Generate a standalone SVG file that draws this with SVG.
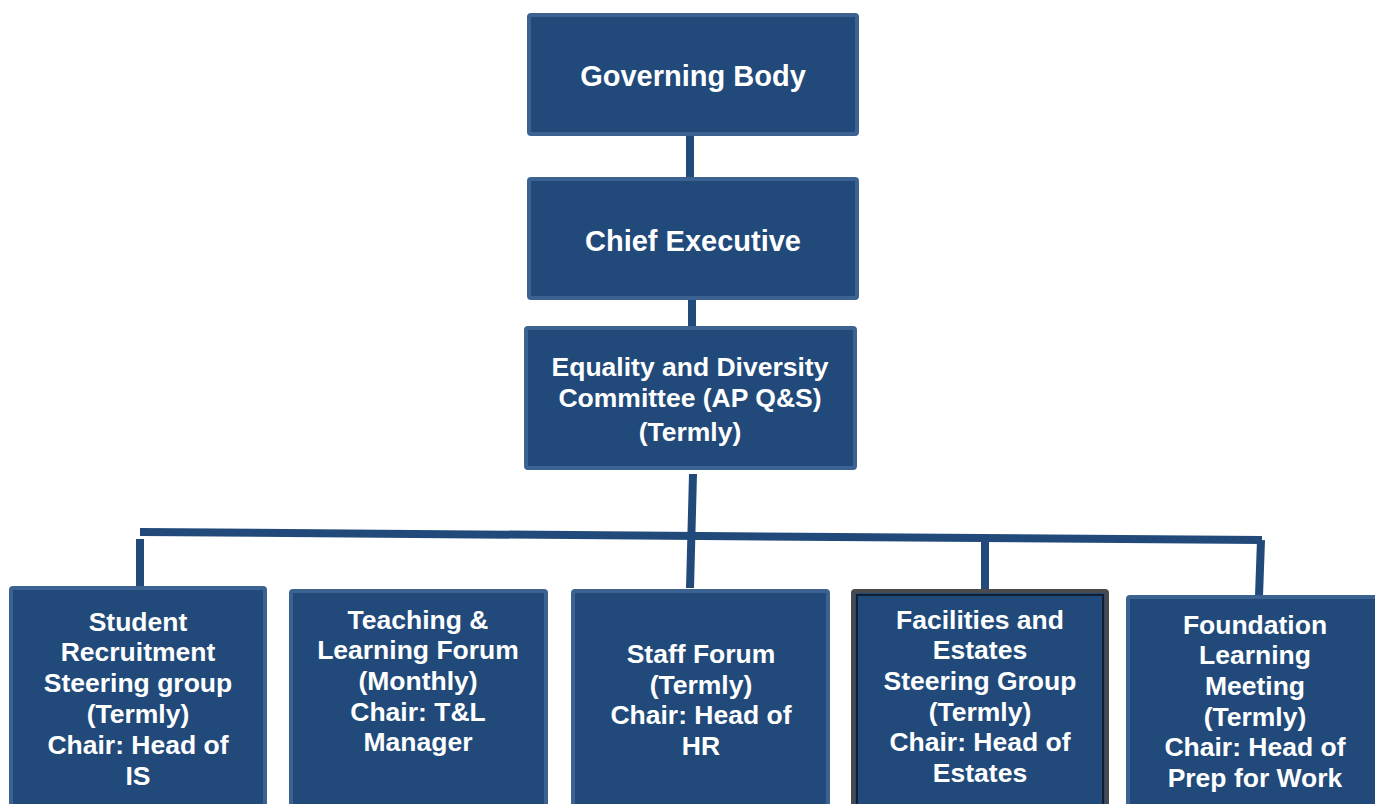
<svg xmlns="http://www.w3.org/2000/svg" width="1375" height="804" viewBox="0 0 1375 804">
<style>
.box{fill:#214a7b;stroke:#3c6291;stroke-width:4}
.dark{fill:#214a7b;stroke:#4a4a4a;stroke-width:4}
.t{font-family:"Liberation Sans",Arial,sans-serif;font-weight:bold;fill:#ffffff;text-anchor:middle}
.big{font-size:29px}
.sm{font-size:26.5px}
.c{stroke:#214a7b;stroke-width:8;fill:none}
</style>
<rect width="1375" height="804" fill="#ffffff"/>
<g id="connectors">
<line class="c" x1="690" y1="135" x2="690" y2="178"/>
<line class="c" x1="692" y1="299" x2="692" y2="327"/>
<line class="c" x1="693" y1="474" x2="690" y2="588"/>
<line class="c" x1="140" y1="532" x2="1262" y2="540"/>
<line class="c" x1="140" y1="539" x2="140" y2="588"/>
<line class="c" x1="985" y1="540" x2="985" y2="590"/>
<line class="c" x1="1261" y1="540" x2="1259" y2="596"/>
</g>
<g id="governing-body">
<rect class="box" x="529" y="15" width="328" height="119" rx="2"/>
<text class="t big" x="693" y="86">Governing Body</text>
</g>
<g id="chief-executive">
<rect class="box" x="529" y="179" width="328" height="119" rx="2"/>
<text class="t big" x="693" y="251">Chief Executive</text>
</g>
<g id="equality">
<rect class="box" x="526" y="328" width="329" height="140" rx="2"/>
<text class="t sm" x="690" y="376">Equality and Diversity</text>
<text class="t sm" x="690" y="407">Committee (AP Q&amp;S)</text>
<text class="t sm" x="690" y="441">(Termly)</text>
</g>
<g id="student">
<rect class="box" x="11" y="588" width="254" height="230" rx="2"/>
<text class="t sm" x="138" y="631">Student</text>
<text class="t sm" x="138" y="661">Recruitment</text>
<text class="t sm" x="138" y="692">Steering group</text>
<text class="t sm" x="138" y="723">(Termly)</text>
<text class="t sm" x="138" y="754">Chair: Head of</text>
<text class="t sm" x="138" y="785">IS</text>
</g>
<g id="teaching">
<rect class="box" x="291" y="591" width="255" height="230" rx="2"/>
<text class="t sm" x="418" y="629">Teaching &amp;</text>
<text class="t sm" x="418" y="659">Learning Forum</text>
<text class="t sm" x="418" y="690">(Monthly)</text>
<text class="t sm" x="418" y="721">Chair: T&amp;L</text>
<text class="t sm" x="418" y="751">Manager</text>
</g>
<g id="staff">
<rect class="box" x="573" y="591" width="255" height="230" rx="2"/>
<text class="t sm" x="701" y="663">Staff Forum</text>
<text class="t sm" x="701" y="694">(Termly)</text>
<text class="t sm" x="701" y="724">Chair: Head of</text>
<text class="t sm" x="701" y="755">HR</text>
</g>
<g id="facilities">
<rect class="dark" x="853" y="591" width="254" height="230" rx="2"/>
<rect x="857" y="595" width="246" height="222" fill="none" stroke="#0f1e33" stroke-width="2"/>
<text class="t sm" x="980" y="629">Facilities and</text>
<text class="t sm" x="980" y="659">Estates</text>
<text class="t sm" x="980" y="690">Steering Group</text>
<text class="t sm" x="980" y="721">(Termly)</text>
<text class="t sm" x="980" y="751">Chair: Head of</text>
<text class="t sm" x="980" y="782">Estates</text>
</g>
<g id="foundation">
<rect class="box" x="1128" y="597" width="260" height="230" rx="2"/>
<text class="t sm" x="1255" y="634">Foundation</text>
<text class="t sm" x="1255" y="664">Learning</text>
<text class="t sm" x="1255" y="695">Meeting</text>
<text class="t sm" x="1255" y="726">(Termly)</text>
<text class="t sm" x="1255" y="756">Chair: Head of</text>
<text class="t sm" x="1255" y="787">Prep for Work</text>
</g>
</svg>
